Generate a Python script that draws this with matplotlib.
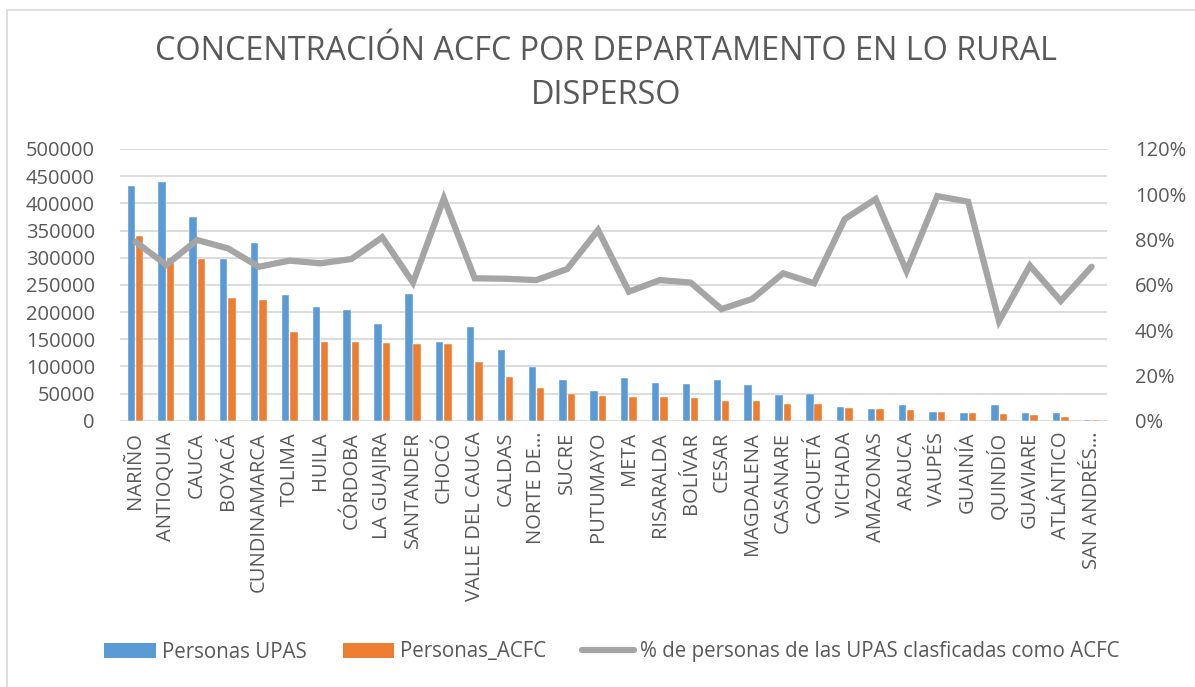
import matplotlib
matplotlib.use("Agg")
import matplotlib.pyplot as plt
from matplotlib import font_manager
from matplotlib.patches import Patch, Rectangle
from matplotlib.lines import Line2D
from matplotlib.ticker import FuncFormatter
import numpy as np

departamentos = ["NARIÑO", "ANTIOQUIA", "CAUCA", "BOYACÁ", "CUNDINAMARCA", "TOLIMA", "HUILA",
                 "CÓRDOBA", "LA GUAJIRA", "SANTANDER", "CHOCÓ", "VALLE DEL CAUCA", "CALDAS",
                 "NORTE DE…", "SUCRE", "PUTUMAYO", "META", "RISARALDA", "BOLÍVAR", "CESAR",
                 "MAGDALENA", "CASANARE", "CAQUETÁ", "VICHADA", "AMAZONAS", "ARAUCA", "VAUPÉS",
                 "GUAINÍA", "QUINDÍO", "GUAVIARE", "ATLÁNTICO", "SAN ANDRÉS…"]
personas_upas = [431000, 439000, 375000, 298000, 327600, 230700, 209800, 203100, 178000, 233200,
                 144300, 173000, 129500, 98200, 74900, 54100, 78000, 69400, 68100, 74300,
                 66300, 46700, 49100, 25800, 22100, 28900, 16000, 14200, 28900, 14700, 14200, 900]
personas_acfc = [340000, 300000, 297600, 225200, 221500, 162600, 144800, 144800, 143600, 141700,
                 141700, 108000, 81000, 60200, 49700, 45400, 43600, 43000, 41200, 35700,
                 35700, 30700, 30200, 23400, 21500, 19100, 16000, 13600, 12300, 9900, 6800, 600]
pct_acfc = [0.791, 0.688, 0.798, 0.761, 0.680, 0.707, 0.695, 0.714, 0.810, 0.610,
            0.982, 0.629, 0.627, 0.621, 0.670, 0.842, 0.570, 0.621, 0.610, 0.493,
            0.538, 0.651, 0.607, 0.891, 0.979, 0.661, 0.992, 0.967, 0.440, 0.685, 0.529, 0.680]
left_ticks = list(range(0, 500001, 50000))
right_ticks = [0, 0.2, 0.4, 0.6, 0.8, 1.0, 1.2]

def has_font(name):
    try:
        font_manager.findfont(font_manager.FontProperties(family=name), fallback_to_default=False)
        return True
    except Exception:
        return False

base_font = "Open Sans" if has_font("Open Sans") else "DejaVu Sans"
plt.rcParams['font.family'] = [base_font, 'DejaVu Sans']

BLUE = "#5B9BD5"
ORANGE = "#ED7D31"
GRAY = "#A5A5A5"
TXT = "#595959"
GRID = "#D9D9D9"

W, H = 1195, 687
fig = plt.figure(figsize=(W / 100, H / 100), dpi=100)
fig.patch.set_facecolor("white")

# chart border
fig.patches.append(Rectangle((7 / W, -0.01), 1.2, 1 - 10 / H + 0.01, transform=fig.transFigure,
                             fill=False, edgecolor=GRID, linewidth=1.2))

ax = fig.add_axes([120 / W, (H - 420.7) / H, (1107 - 120) / W, (420.7 - 149) / H])
x = np.arange(len(departamentos))
bw = 0.24
ax.bar(x - 0.135, personas_upas, bw, color=BLUE, edgecolor="white", linewidth=0.3, zorder=2,
       label="Personas UPAS")
ax.bar(x + 0.135, personas_acfc, bw, color=ORANGE, edgecolor="white", linewidth=0.3, zorder=2,
       label="Personas_ACFC")
ax.set_ylim(0, 500000)
ax.set_xlim(-0.5, len(departamentos) - 0.5)
ax.set_yticks(left_ticks)
ax.yaxis.set_major_formatter(FuncFormatter(lambda v, p: f"{int(v)}"))
ax.grid(axis="y", color=GRID, linewidth=1.3, zorder=0)
ax.set_axisbelow(True)
for s in ax.spines.values():
    s.set_visible(False)
ax.tick_params(axis="y", length=0, pad=18, labelsize=14.5, labelcolor=TXT)
ax.set_xticks(x)
ax.set_xticklabels(departamentos, rotation=90, fontsize=14.5, color=TXT)
ax.tick_params(axis="x", length=0, pad=8)

ax2 = ax.twinx()
ax2.plot(x, pct_acfc, color=GRAY, linewidth=4.5, solid_joinstyle="miter", solid_capstyle="round",
         zorder=3, label="% de personas de las UPAS clasficadas como ACFC")
ax2.set_ylim(0, 1.2)
ax2.set_yticks(right_ticks)
ax2.yaxis.set_major_formatter(FuncFormatter(lambda v, p: f"{v*100:.0f}%"))
for s in ax2.spines.values():
    s.set_visible(False)
ax2.tick_params(axis="y", length=0, pad=20, labelsize=14.5, labelcolor=TXT)

fig.text(0.507, (H - 51) / H, "CONCENTRACIÓN ACFC POR DEPARTAMENTO EN LO RURAL",
         ha="center", va="center", fontsize=23.3, color=TXT)
fig.text(0.507, (H - 95) / H, "DISPERSO",
         ha="center", va="center", fontsize=23.3, color=TXT)

handles = [Patch(facecolor=BLUE, edgecolor="none"), Patch(facecolor=ORANGE, edgecolor="none"),
           Line2D([0], [0], color=GRAY, linewidth=4.5, solid_capstyle="round")]
labels = ["Personas UPAS", "Personas_ACFC", "% de personas de las UPAS clasficadas como ACFC"]
leg = fig.legend(handles, labels, loc="center", bbox_to_anchor=(0.512, 35 / H), ncol=3,
                 frameon=False, fontsize=14.8, handlelength=2.5, handletextpad=0.3,
                 columnspacing=1.75)
for t in leg.get_texts():
    t.set_color(TXT)

fig.savefig("out.png", dpi=100, facecolor="white")
